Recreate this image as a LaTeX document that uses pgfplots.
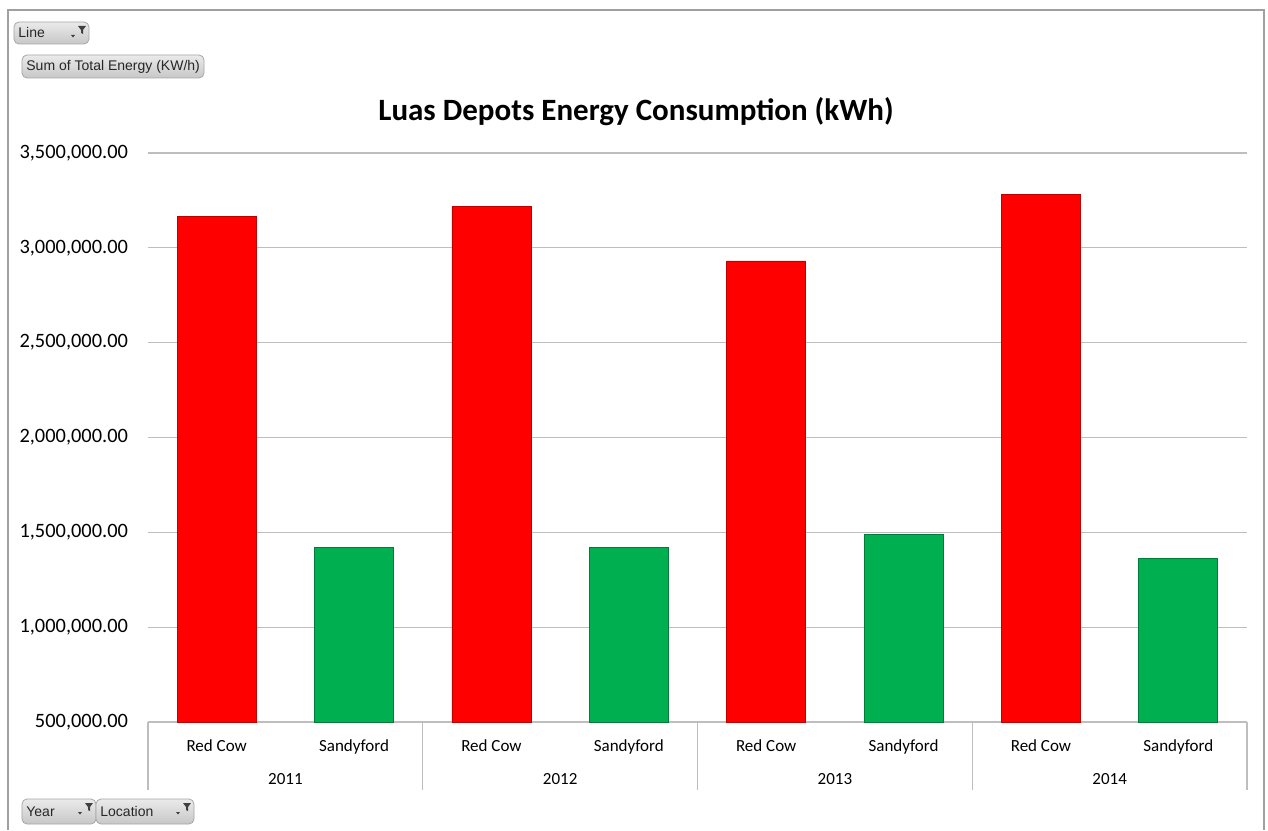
\documentclass[border=0pt]{standalone}
\usepackage{fontspec}
\setmainfont{Carlito}
\newfontfamily\uifont{Liberation Sans}
\usepackage{pgfplots}
\pgfplotsset{compat=1.18}

\definecolor{barred}{RGB}{255,0,0}
\definecolor{bargreen}{RGB}{0,176,80}
\definecolor{gridgray}{RGB}{190,190,190}
\definecolor{framegray}{RGB}{160,160,160}

% filter button; #1,#2 = top left, #3,#4 = bottom right (pixels), #5 = text
\newcommand{\uibutton}[5]{%
  \shade[top color=white!92!black, bottom color=white!78!black, draw=white!65!black,
    rounded corners=2.5] (#1,#2) rectangle (#3,#4);
  \node[anchor=west, inner sep=0pt, font=\uifont\fontsize{7}{8}\selectfont, text=black!85]
    at (#1+4,{(#2+#4)/2}) {#5};
}
\newcommand{\filtericon}[2]{% #1,#2 = right edge, top of button
  \fill[black!75] (#1-11,#2+4) -- (#1-3,#2+4) -- (#1-6,#2+8) -- (#1-6,#2+12)
    -- (#1-8,#2+11) -- (#1-8,#2+8) -- cycle;
  \fill[black!75] (#1-18,#2+13) -- (#1-14,#2+13) -- (#1-16,#2+15.5) -- cycle;
}

\begin{document}
\begin{tikzpicture}
\begin{scope}[x=0.5pt, y=-0.5pt, shift={(-74pt,361pt)}]
  \path[use as bounding box] (0,0) rectangle (1268,830);
  \fill[white] (0,0) rectangle (1268,830);
  \draw[framegray, line width=1pt] (8,830) -- (8,10) -- (1264,10) -- (1264,830);
  \uibutton{14}{22}{89}{44}{Line}
  \filtericon{89}{22}
  \uibutton{22}{55}{204}{78}{Sum of Total Energy (KW/h)}
  \uibutton{22}{799}{96}{824}{Year}
  \filtericon{96}{799}
  \uibutton{96}{799}{194}{824}{Location}
  \filtericon{194}{799}
  \node[font=\bfseries\fontsize{15.5}{18}\selectfont] at (636,112)
    {Luas Depots Energy Consumption (kWh)};
\end{scope}

\begin{axis}[
  scale only axis,
  width=549.5pt, height=284.5pt,
  ybar, bar width=39.5pt,
  xmin=-0.5, xmax=7.5,
  ymin=500000, ymax=3500000,
  ytick distance=500000,
  scaled y ticks=false,
  xtick={0,...,7},
  xticklabels={Red Cow, Sandyford, Red Cow, Sandyford, Red Cow, Sandyford, Red Cow, Sandyford},
  minor xtick={-0.5,1.5,3.5,5.5,7.5},
  extra x ticks={0.5,2.5,4.5,6.5},
  extra x tick labels={2011,2012,2013,2014},
  extra x tick style={major tick length=0pt, grid=none,
    tick label style={yshift=-16.5pt}},
  xtick pos=bottom, ytick pos=left,
  tick align=outside,
  major tick length=0pt,
  minor tick length=34pt,
  minor tick style={gridgray, line width=0.6pt},
  axis line style={draw=none},
  ymajorgrids,
  grid style={gridgray, line width=0.6pt},
  x tick label style={font=\fontsize{8.5}{10}\selectfont, anchor=base, yshift=-14.5pt},
  y tick label style={font=\fontsize{10.2}{12}\selectfont, xshift=-6.5pt},
  /pgf/number format/assume math mode=true,
  /pgf/number format/.cd, fixed, precision=2, zerofill, 1000 sep={,},
]
\addplot[fill=barred, draw=barred!75!black, line width=0.4pt, bar shift=0pt]
  coordinates {(0,3165000) (2,3217000) (4,2931000) (6,3280000)};
\addplot[fill=bargreen, draw=bargreen!70!black, line width=0.4pt, bar shift=0pt]
  coordinates {(1,1418000) (3,1418000) (5,1488000) (7,1361000)};
\end{axis}
\end{tikzpicture}
\end{document}
